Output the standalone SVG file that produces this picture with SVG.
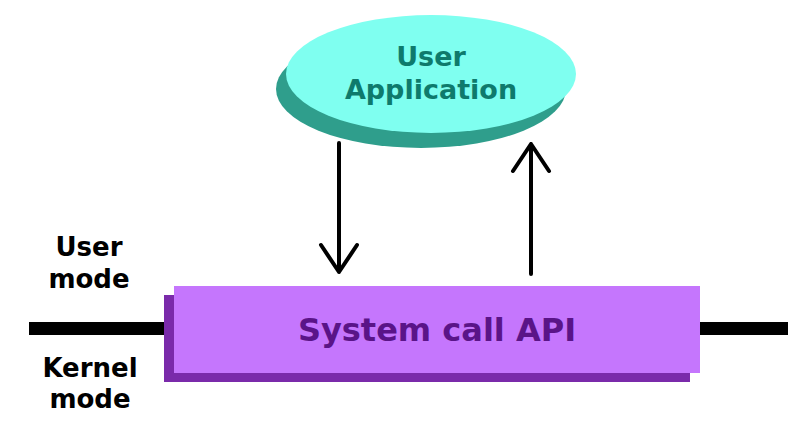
<svg xmlns="http://www.w3.org/2000/svg" width="800" height="435" viewBox="0 0 800 435">
<style>
  text { font-family: "DejaVu Sans", Verdana, sans-serif; text-anchor: middle; font-weight: 700; }
  .lbl { font-size: 26px; fill: #000; }
  .app { font-size: 27px; fill: #0e7a6c; }
  .api { font-size: 32px; fill: #5a1488; }
  .conn { stroke: #000; stroke-width: 4; fill: none; stroke-linecap: round; stroke-linejoin: round; }
</style>
<rect width="800" height="435" fill="#fff"/>
<g id="divider">
  <rect x="29" y="322" width="759" height="13" fill="#000"/>
</g>
<g id="labels">
  <text class="lbl" x="89" y="256">User</text>
  <text class="lbl" x="89" y="288">mode</text>
  <text class="lbl" x="90" y="377">Kernel</text>
  <text class="lbl" x="90" y="408">mode</text>
</g>
<g id="user-application">
  <ellipse cx="421" cy="89" rx="145" ry="59" fill="#2f9e8c"/>
  <ellipse cx="431" cy="74" rx="145" ry="59" fill="#7ffff0"/>
  <text class="app" x="431" y="66">User</text>
  <text class="app" x="431" y="99">Application</text>
</g>
<g id="system-call-api">
  <rect x="164" y="295" width="526" height="87" fill="#7a2aaa"/>
  <rect x="174" y="286" width="526" height="87" fill="#c576fd"/>
  <text class="api" x="437" y="341">System call API</text>
</g>
<g id="connectors">
  <path class="conn" d="M339 143 V272 M321 245 L339 272 L357 245"/>
  <path class="conn" d="M531 274 V144 M513 171 L531 144 L549 171"/>
</g>
</svg>
